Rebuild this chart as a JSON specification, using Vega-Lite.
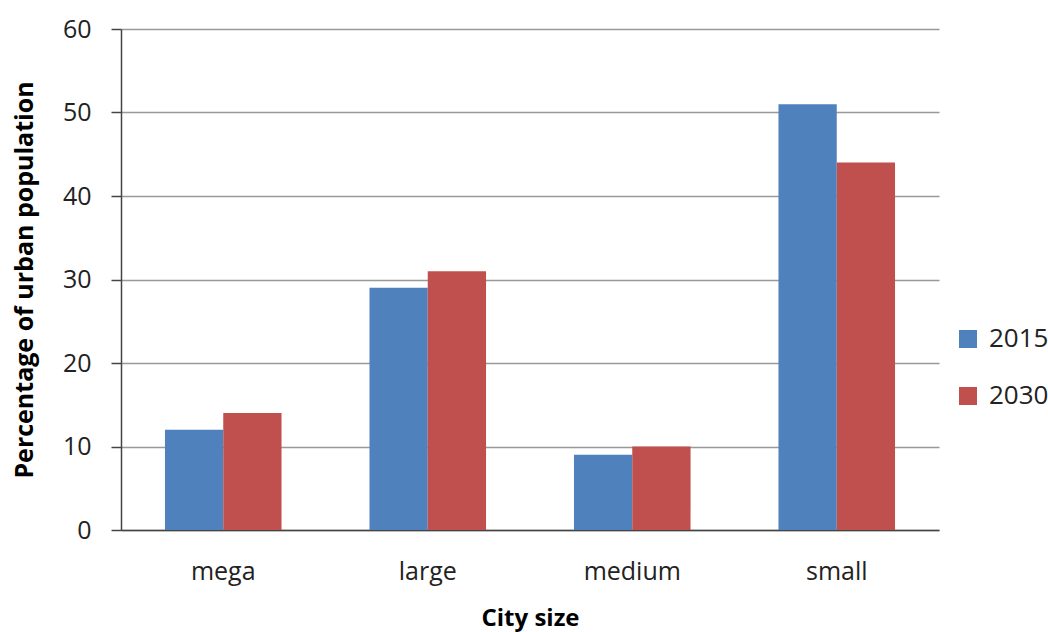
{
  "$schema": "https://vega.github.io/schema/vega-lite/v6.json",
  "width": 818,
  "height": 501,
  "autosize": {"type": "none"},
  "padding": {"left": 121, "top": 29, "right": 109, "bottom": 102},
  "background": "white",
  "config": {
    "view": {"stroke": null},
    "font": "Open Sans",
    "axis": {"labelFont": "Open Sans", "titleFont": "Open Sans"}
  },
  "data": {
    "values": [
      {"size": "mega", "year": "2015", "pct": 12},
      {"size": "mega", "year": "2030", "pct": 14},
      {"size": "large", "year": "2015", "pct": 29},
      {"size": "large", "year": "2030", "pct": 31},
      {"size": "medium", "year": "2015", "pct": 9},
      {"size": "medium", "year": "2030", "pct": 10},
      {"size": "small", "year": "2015", "pct": 51},
      {"size": "small", "year": "2030", "pct": 44}
    ]
  },
  "mark": {"type": "bar"},
  "encoding": {
    "x": {
      "field": "size",
      "type": "nominal",
      "sort": ["mega", "large", "medium", "small"],
      "scale": {"paddingInner": 0.43, "paddingOuter": 0.215},
      "axis": {
        "title": "City size",
        "titleFontSize": 24,
        "titleFontWeight": "bold",
        "titleColor": "black",
        "titlePadding": 22,
        "labelAngle": 0,
        "labelFontSize": 25,
        "labelColor": "#222",
        "labelPadding": 29,
        "ticks": false,
        "domainColor": "#444",
        "domainWidth": 1.5
      }
    },
    "xOffset": {"field": "year", "type": "nominal", "scale": {"paddingInner": 0, "paddingOuter": 0}},
    "y": {
      "field": "pct",
      "type": "quantitative",
      "scale": {"domain": [0, 60]},
      "axis": {
        "title": "Percentage of urban population",
        "titleFontSize": 25,
        "titleFontWeight": "bold",
        "titleColor": "black",
        "titlePadding": 25,
        "values": [0, 10, 20, 30, 40, 50, 60],
        "labelFontSize": 25,
        "labelColor": "#222",
        "labelPadding": 20,
        "tickSize": 10,
        "tickColor": "#444",
        "tickWidth": 1.5,
        "domainColor": "#444",
        "domainWidth": 1.5,
        "gridColor": "#999",
        "gridWidth": 1.5
      }
    },
    "color": {
      "field": "year",
      "type": "nominal",
      "scale": {"domain": ["2015", "2030"], "range": ["#4F81BD", "#C0504D"]},
      "legend": {
        "title": null,
        "orient": "none",
        "legendX": 834,
        "legendY": 297,
        "symbolType": "square",
        "symbolSize": 324,
        "symbolStrokeWidth": 0,
        "labelFontSize": 26,
        "labelColor": "#222",
        "labelOffset": 8,
        "rowPadding": 31
      }
    }
  }
}
